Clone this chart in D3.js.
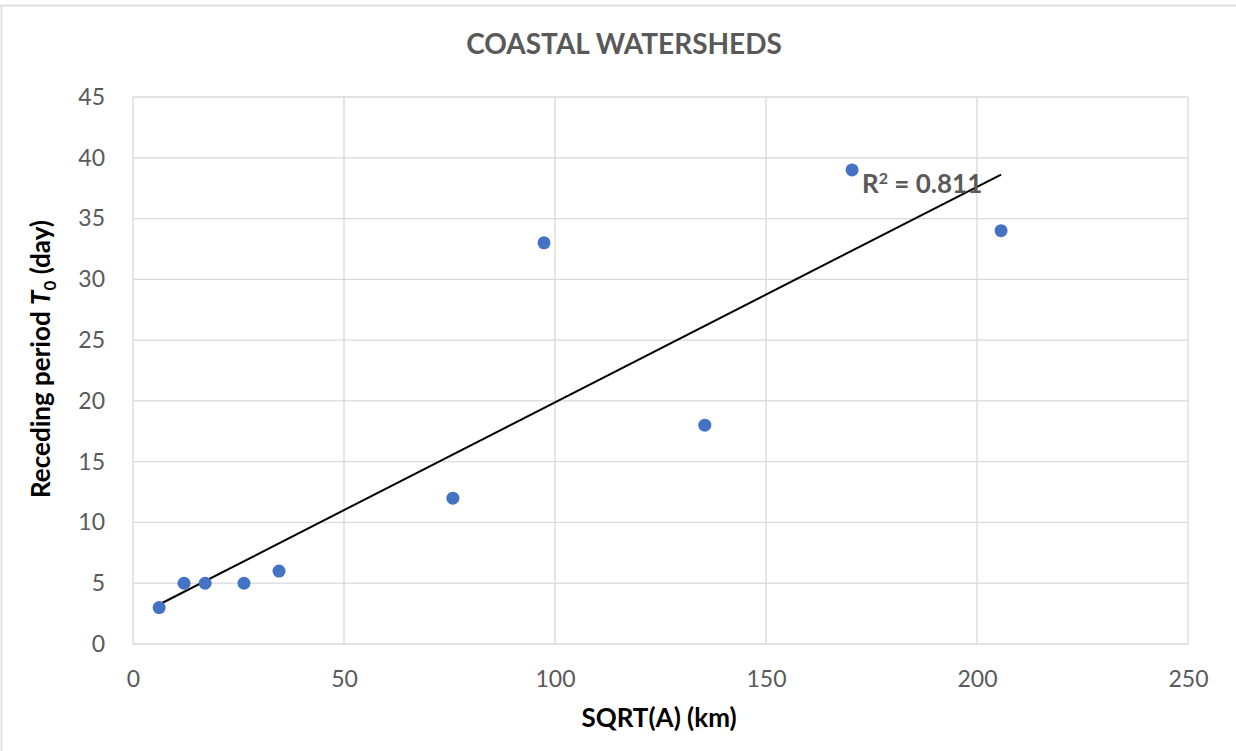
<!DOCTYPE html>
<html lang="en">
<head>
<meta charset="UTF-8">
<title>Coastal watersheds</title>
<script src="https://d3js.org/d3.v7.min.js"></script>
<style>
  html, body { margin: 0; padding: 0; background: #fff; }
  svg text { font-family: Lato, "Open Sans", sans-serif; }
</style>
</head>
<body>
<div id="chart"></div>
<script>
// values
const sqrtArea = [6.2, 12.1, 17.1, 26.3, 34.6, 75.8, 97.4, 135.5, 170.4, 205.7];
const receding = [3, 5, 5, 5, 6, 12, 33, 18, 39, 34];
const xTicks = [0, 50, 100, 150, 200, 250];
const yTicks = [0, 5, 10, 15, 20, 25, 30, 35, 40, 45];

const W = 1236, H = 751;
const m = { left: 133, right: 48, top: 97, bottom: 107 };

const svg = d3.select("#chart").append("svg")
  .attr("width", W).attr("height", H);

// outer frame (only top and left edges show in the shot)
svg.append("line").attr("x1", 0).attr("x2", W).attr("y1", 5.5).attr("y2", 5.5)
  .attr("stroke", "#e0e0e0").attr("stroke-width", 2);
svg.append("line").attr("x1", 1.5).attr("x2", 1.5).attr("y1", 5).attr("y2", H)
  .attr("stroke", "#e0e0e0").attr("stroke-width", 2);

const x = d3.scaleLinear().domain([0, 250]).range([m.left, W - m.right]);
const y = d3.scaleLinear().domain([0, 45]).range([H - m.bottom, m.top]);

// gridlines
const g = svg.append("g");
g.selectAll(".vg").data(xTicks).join("line")
  .attr("x1", d => x(d)).attr("x2", d => x(d))
  .attr("y1", y(0)).attr("y2", y(45))
  .attr("stroke", "#d9d9d9").attr("stroke-width", 1.3);
g.selectAll(".hg").data(yTicks).join("line")
  .attr("x1", x(0)).attr("x2", x(250))
  .attr("y1", d => y(d)).attr("y2", d => y(d))
  .attr("stroke", "#d9d9d9").attr("stroke-width", 1.3);

// axes (labels only)
const xAxis = svg.append("g").attr("transform", `translate(0,${y(0)})`)
  .call(d3.axisBottom(x).tickValues(xTicks).tickSize(0).tickPadding(27));
const yAxis = svg.append("g").attr("transform", `translate(${x(0)},0)`)
  .call(d3.axisLeft(y).tickValues(yTicks).tickSize(0).tickPadding(28));
[xAxis, yAxis].forEach(a => {
  a.select(".domain").remove();
  a.selectAll("text").attr("fill", "#595959")
    .style("font-family", "Lato, sans-serif").style("font-size", "23px");
});

// linear trendline from least squares
const n = sqrtArea.length;
const mx = d3.mean(sqrtArea), my = d3.mean(receding);
let sxy = 0, sxx = 0, syy = 0;
for (let i = 0; i < n; i++) {
  sxy += (sqrtArea[i] - mx) * (receding[i] - my);
  sxx += (sqrtArea[i] - mx) ** 2;
  syy += (receding[i] - my) ** 2;
}
const slope = sxy / sxx, icpt = my - slope * mx;
const r2 = sxy * sxy / (sxx * syy);
const x0 = d3.min(sqrtArea), x1 = d3.max(sqrtArea);

svg.append("line")
  .attr("x1", x(x0)).attr("y1", y(icpt + slope * x0))
  .attr("x2", x(x1)).attr("y2", y(icpt + slope * x1))
  .attr("stroke", "#000").attr("stroke-width", 2);

// points
svg.selectAll(".pt").data(d3.range(n)).join("circle")
  .attr("cx", i => x(sqrtArea[i])).attr("cy", i => y(receding[i]))
  .attr("r", 6.5).attr("fill", "#4472c4");

// R² label
const lbl = svg.append("text")
  .attr("x", 862).attr("y", 193)
  .attr("fill", "#595959").style("font-size", "26px").style("font-weight", "bold");
lbl.append("tspan").text("R");
lbl.append("tspan").text("2").attr("dy", -9).style("font-size", "16px");
lbl.append("tspan").text(" = " + r2.toFixed(3)).attr("dy", 9);

// title
svg.append("text").attr("x", 624).attr("y", 54).attr("text-anchor", "middle")
  .attr("fill", "#595959").style("font-size", "28px").style("font-weight", "bold")
  .text("COASTAL WATERSHEDS");

// x title
svg.append("text").attr("x", 659).attr("y", 727).attr("text-anchor", "middle")
  .attr("fill", "#000").style("font-size", "26px").style("font-weight", "bold")
  .text("SQRT(A) (km)");

// y title
const yt = svg.append("text")
  .attr("transform", "translate(50,359) rotate(-90)")
  .attr("text-anchor", "middle")
  .attr("fill", "#000").style("font-size", "26px").style("font-weight", "bold");
yt.append("tspan").text("Receding period ");
yt.append("tspan").text("T").style("font-style", "italic");
yt.append("tspan").text("0").attr("dy", 6).style("font-size", "17px");
yt.append("tspan").text(" (day)").attr("dy", -6);
</script>
</body>
</html>
